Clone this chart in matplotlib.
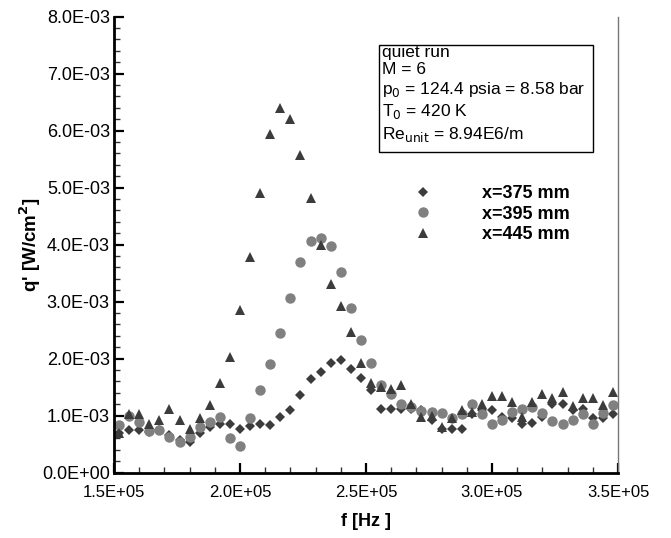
import matplotlib
matplotlib.use('Agg')
from matplotlib import pyplot as plt
from matplotlib.ticker import MultipleLocator, FuncFormatter
from matplotlib.patches import Rectangle

plt.rcParams['font.family'] = ['Liberation Sans', 'DejaVu Sans']

# frequency [kHz]
freq_khz = [152, 156, 160, 164, 168, 172, 176, 180, 184, 188,
            192, 196, 200, 204, 208, 212, 216, 220, 224, 228,
            232, 236, 240, 244, 248, 252, 256, 260, 264, 268,
            272, 276, 280, 284, 288, 292, 296, 300, 304, 308,
            312, 316, 320, 324, 328, 332, 336, 340, 344, 348]

# q' [1E-3 W/cm2]
q375 = [0.70, 0.74, 0.74, 0.71, 0.74, 0.66, 0.57, 0.54, 0.70, 0.80,
        0.85, 0.86, 0.77, 0.82, 0.85, 0.83, 0.98, 1.10, 1.36, 1.64,
        1.77, 1.92, 1.98, 1.82, 1.66, 1.44, 1.12, 1.12, 1.12, 1.12,
        1.10, 0.92, 0.77, 0.76, 0.76, 1.03, 1.09, 1.09, 0.98, 0.95,
        0.86, 0.87, 0.98, 1.21, 1.21, 1.09, 1.12, 0.95, 0.95, 1.02]
q395 = [0.83, 1.00, 0.89, 0.73, 0.74, 0.63, 0.54, 0.62, 0.79, 0.89,
        0.97, 0.60, 0.46, 0.95, 1.44, 1.91, 2.44, 3.07, 3.70, 4.06,
        4.12, 3.97, 3.52, 2.89, 2.33, 1.92, 1.53, 1.38, 1.21, 1.15,
        1.08, 1.06, 1.05, 0.95, 1.03, 1.21, 1.03, 0.86, 0.93, 1.06,
        1.12, 1.15, 1.05, 0.91, 0.86, 0.93, 1.03, 0.85, 1.05, 1.18]
q445 = [0.70, 1.02, 1.02, 0.86, 0.92, 1.12, 0.93, 0.77, 0.95, 1.18,
        1.57, 2.02, 2.86, 3.78, 4.91, 5.94, 6.40, 6.21, 5.58, 4.82,
        3.99, 3.31, 2.93, 2.46, 1.93, 1.57, 1.50, 1.47, 1.53, 1.21,
        0.98, 1.00, 0.80, 0.95, 1.10, 1.06, 1.21, 1.35, 1.34, 1.24,
        0.98, 1.24, 1.38, 1.30, 1.41, 1.16, 1.30, 1.30, 1.18, 1.41]

f = [v * 1e3 for v in freq_khz]
dark = '#3c3c3c'
grey = '#808080'

fig = plt.figure(figsize=(6.71, 5.38), dpi=100)
ax = fig.add_axes([114 / 671, 1 - 472.5 / 538, 504 / 671, 455.8 / 538])

ax.plot(f, [v * 1e-3 for v in q375], 'D', color=dark, ms=5.5, mew=0, label='x=375 mm')
ax.plot(f, [v * 1e-3 for v in q395], 'o', color=grey, ms=7.5, mew=0, label='x=395 mm')
ax.plot(f, [v * 1e-3 for v in q445], '^', color=dark, ms=7, mew=0, label='x=445 mm')

ax.set_xlim(1.5e5, 3.5e5)
ax.set_ylim(0, 8e-3)
ax.xaxis.set_major_locator(MultipleLocator(5e4))
ax.xaxis.set_minor_locator(MultipleLocator(1e4))
ax.yaxis.set_major_locator(MultipleLocator(1e-3))
ax.yaxis.set_minor_locator(MultipleLocator(2e-4))
ax.xaxis.set_major_formatter(FuncFormatter(lambda v, p: f'{v:.1E}'))
ax.yaxis.set_major_formatter(FuncFormatter(lambda v, p: f'{v:.1E}'))

ax.spines['top'].set_visible(False)
ax.spines['left'].set_linewidth(2)
ax.spines['bottom'].set_linewidth(2)
ax.spines['right'].set_linewidth(1)
ax.spines['right'].set_color('#777777')
ax.tick_params(which='major', direction='in', length=7, width=1.6,
               top=False, right=False)
ax.tick_params(which='minor', direction='in', length=4, width=1, color='#333333',
               top=False, right=False)
ax.tick_params(axis='y', pad=3, labelsize=13)
ax.tick_params(axis='x', pad=9, labelsize=12)

ax.set_xlabel('f [Hz ]', fontsize=13, fontweight='bold')
ax.set_ylabel(r"q' [W/cm$^\mathbf{2}$]", fontsize=13.5, fontweight='bold')
ax.xaxis.set_label_coords(0.5, -0.088)
ax.yaxis.set_label_coords(-0.14, 0.5)

# info box
ax.add_patch(Rectangle((0.525, 0.704), 0.426, 0.234, transform=ax.transAxes,
                       fill=False, edgecolor='black', linewidth=1, zorder=5))
info = ['quiet run', 'M = 6', r'p$_0$ = 124.4 psia = 8.58 bar',
        r'T$_0$ = 420 K', r'Re$_\mathrm{unit}$ = 8.94E6/m']
ys = [0.9116, 0.8743, 0.8304, 0.7822, 0.7317]
for txt, yy in zip(info, ys):
    ax.text(0.532, yy, txt, transform=ax.transAxes, fontsize=12.5, va='baseline')

leg = ax.legend(loc='center left', bbox_to_anchor=(0.5765, 0.5665), frameon=False,
                numpoints=1, handlelength=2, handletextpad=2.3, labelspacing=0.2,
                borderpad=0, borderaxespad=0, prop={'size': 13, 'weight': 'bold'})

fig.savefig('out.png', dpi=100)
